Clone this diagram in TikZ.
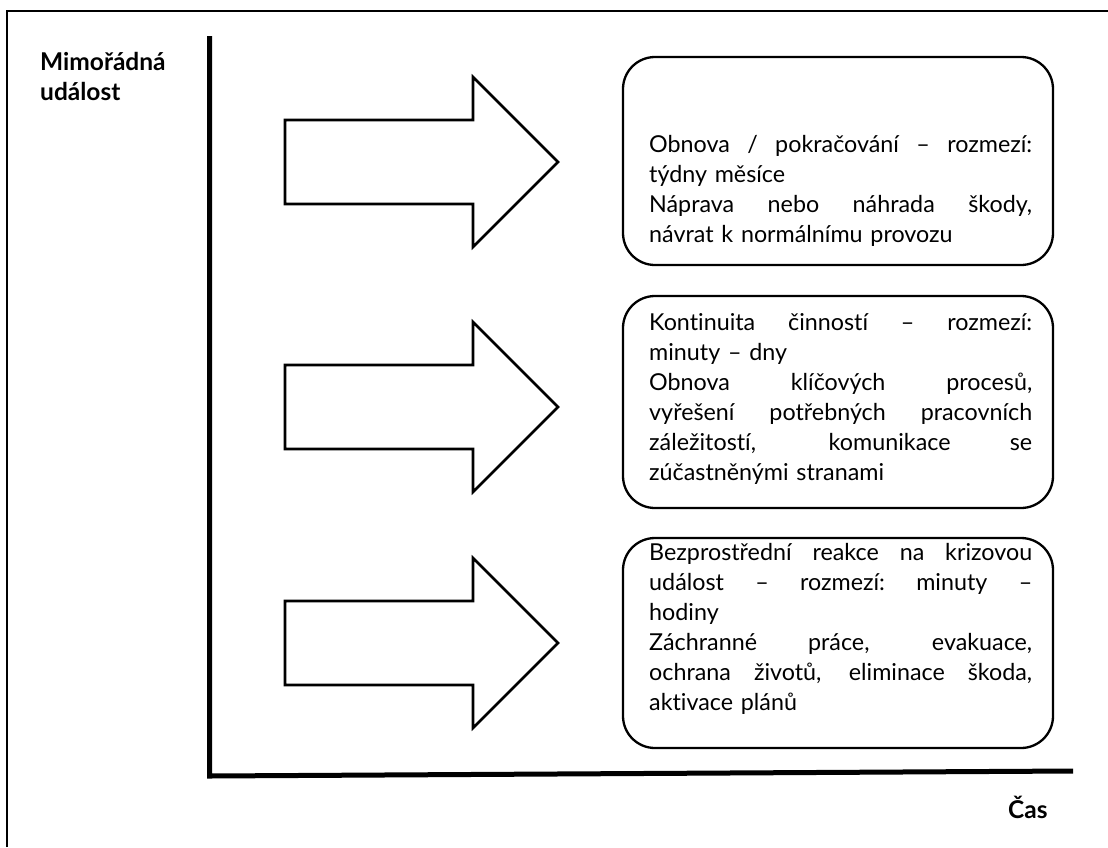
\documentclass[tikz,border=0pt]{standalone}
\usepackage{fontspec}
\setmainfont{Lato}[Ligatures=NoCommon]
\newlength\boxtw
\setlength\boxtw{383pt}
\newcommand\J[1]{\leavevmode\hbox to\boxtw{\spaceskip=0.25em plus 1fil\relax\xspaceskip=\spaceskip #1}}
\newcommand\phasearrow[1]{%
  \draw[arrowshape] (285,#1-42) -- (473,#1-42) -- (473,#1-85) -- (558,#1)
    -- (473,#1+85) -- (473,#1+42) -- (285,#1+42) -- cycle;}
\begin{document}
\begin{tikzpicture}[x=1pt,y=-1pt,line join=miter,
  arrowshape/.style={draw,line width=2.6pt,fill=white},
  phasebox/.style={draw,line width=2.3pt,rounded corners=32pt,minimum width=430pt},
  boxtext/.style={text width=\boxtw,align=left,inner sep=0pt,anchor=north west,
    font=\fontsize{23.3}{30}\selectfont},
  axislabel/.style={font=\fontsize{24.5}{30}\selectfont\bfseries,inner sep=0pt,align=left}]
\useasboundingbox (0,0) rectangle (1108,847);
% frame
\draw[line width=2pt] (7,847) -- (7,11) -- (1108,11);
% axes
\coordinate (ytop) at (209.5,36);
\coordinate (origin) at (209.5,776);
\coordinate (xend) at (1073,771);
\draw[line width=5pt] (ytop) -- (origin) -- (xend);
\node[axislabel,anchor=north west] (ylab) at (40,50) {\rule{0pt}{20pt}Mimořádná\\událost};
\node[axislabel,anchor=base west] (xlab) at (1008,818) {Čas};
% arrows
\phasearrow{162}
\phasearrow{407}
\phasearrow{643}
% boxes
\node[phasebox,minimum height=208pt] (b1) at (838,161) {};
\node[phasebox,minimum height=212pt] (b2) at (838,402) {};
\node[phasebox,minimum height=210pt] (b3) at (838,643) {};
\node[boxtext] (t1) at (649,132) {\rule{0pt}{20pt}\J{Obnova / pokračování – rozmezí:}\\
týdny měsíce\\
\J{Náprava nebo náhrada škody,}\\
návrat k normálnímu provozu};
\node[boxtext] (t2) at (649,310) {\rule{0pt}{20pt}\J{Kontinuita činností – rozmezí:}\\
minuty – dny\\
\J{Obnova klíčových procesů,}\\
\J{vyřešení potřebných pracovních}\\
\J{záležitostí, komunikace se}\\
zúčastněnými stranami};
\node[boxtext] (t3) at (649,540) {\rule{0pt}{20pt}\J{Bezprostřední reakce na krizovou}\\
\J{událost – rozmezí: minuty –}\\
hodiny\\
\J{Záchranné práce, evakuace,}\\
\J{ochrana životů, eliminace škoda,}\\
aktivace plánů};
\end{tikzpicture}
\end{document}
